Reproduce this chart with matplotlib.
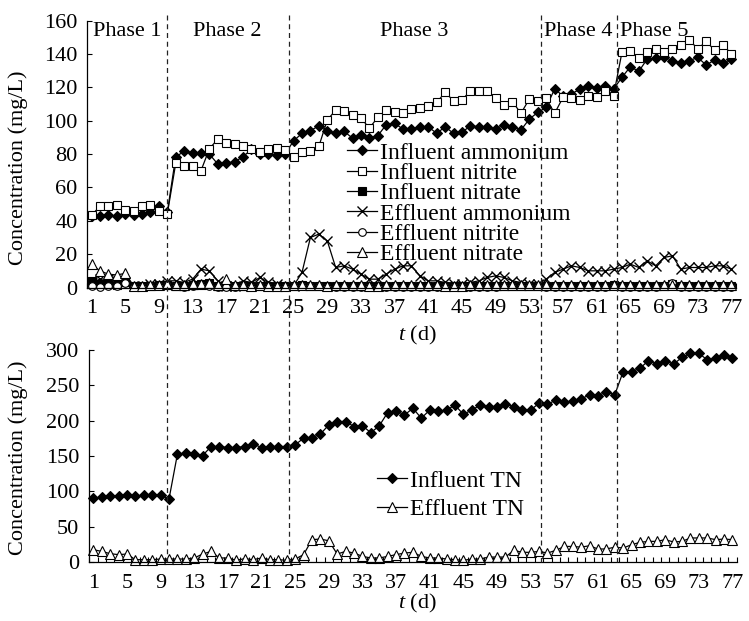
import matplotlib
matplotlib.use("Agg")
import matplotlib.pyplot as plt
import matplotlib.transforms as mtransforms
from matplotlib.lines import Line2D
import numpy as np

plt.rcParams["font.family"] = ["Liberation Serif", "DejaVu Serif"]
plt.rcParams["mathtext.fontset"] = "custom"
plt.rcParams["mathtext.rm"] = "Liberation Serif"
plt.rcParams["mathtext.it"] = "Liberation Serif:italic"

W, H = 749, 621
BLACK = "#000000"

DAYS = list(range(1, 78))
TICK_DAYS = list(range(1, 78, 4))

# top panel (mg/L)
INF_NH4 = [43, 42.6, 43.6, 42.6, 44, 43.6, 44, 45, 48.6, 45,
           78.4, 81.6, 80.6, 80.6, 80, 74, 74.6, 75.4, 78.4, 83,
           80, 80, 79.6, 80, 88, 92.4, 94, 97, 93.6, 92.4,
           93.6, 89.6, 91.6, 89.6, 91, 97.6, 98.4, 95, 95, 96.4,
           96.4, 92.4, 96.4, 92.4, 93, 97, 96.4, 96.4, 95, 97.6,
           96.4, 94.4, 101, 105, 108, 119, 115, 116, 119, 121,
           119.6, 121, 119, 126, 132.4, 129.6, 137, 137.6, 138.4, 136,
           134.4, 136, 138, 133.4, 136.4, 134.4, 137]
INF_NO2 = [43.4, 48.6, 48.6, 49.4, 46.6, 46, 48.6, 49.4, 46, 44,
           74.4, 72.6, 72.6, 70, 83.2, 89, 86.4, 86, 85, 83.2,
           81, 83, 83.6, 82.4, 78, 81, 82, 84.6, 100.4, 106.4,
           105.6, 103.6, 101.6, 95.6, 102, 106.4, 105, 104.4, 107, 107.6,
           109, 111, 117, 112, 112.4, 118, 117.6, 118, 113.4, 109.5,
           111.5, 104.4, 113, 112, 113.6, 104.4, 114, 113.6, 112.4, 115,
           114, 117.6, 115, 141, 142, 137.6, 141, 143, 141, 143,
           145.6, 148.6, 143, 147.6, 142.4, 145.6, 140]
INF_NO3 = [4, 2, 2.5, 1.5, 3, 1, 1, 1, 1.5, 1.5,
           1, 1, 1.5, 2, 2.5, 1, 1, 1, 1, 1,
           1, 1, 1, 1, 1, 1.5, 1, 1, 1, 1,
           1, 1, 1, 1, 1, 1, 1, 1, 1, 1,
           1, 1, 1, 1, 1, 1, 1, 1, 1, 1,
           1, 1, 1, 1, 1, 1, 1, 1, 1, 1,
           1, 1, 1.5, 1, 1, 1, 1, 1, 1, 2,
           1, 1, 1, 1, 1, 1, 1]
EFF_NH4 = [3, 5, 5, 4, 3, 1, 1, 2, 2, 4,
           4, 3, 5, 11, 10, 4, 1, 1, 4, 3,
           6, 3, 2, 1, 1, 9, 30, 32, 28, 12,
           13, 11, 8, 5, 5, 8, 11, 13, 13, 7,
           4, 4, 3, 2, 2, 3, 4, 6, 7, 6,
           4, 3, 2, 2, 5, 9, 11, 13, 12, 10,
           10, 10, 11, 12, 14, 12, 16, 13, 18, 19,
           11, 12, 12, 12, 13, 13, 11]
EFF_NO2 = [1, 0.5, 1, 1, 2.5, 0.5, 0.5, 1, 1, 1.5,
           1, 0.5, 1, 1.5, 1, 0.5, 0.5, 0.5, 1, 0.5,
           1, 0.5, 0.5, 0.5, 1, 1, 1, 1, 0.5, 0.5,
           0.5, 0.5, 0.5, 0.5, 0.5, 0.5, 0.5, 0.5, 0.5, 0.5,
           0.5, 0.5, 0.5, 0.5, 0.5, 0.5, 0.5, 0.5, 0.5, 1,
           1, 1, 1, 1, 0.5, 0.5, 0.5, 0.5, 0.5, 0.5,
           0.5, 0.5, 1, 0.5, 0.5, 0.5, 0.5, 0.5, 1, 2.5,
           0.5, 0.5, 0.5, 0.5, 0.5, 0.5, 0.5]
EFF_NO3 = [14, 10, 8, 7.5, 8.5, 1, 1, 1.5, 1.5, 2,
           1.5, 1.5, 2, 2, 2.5, 1.5, 5, 1.5, 1.5, 1,
           1.5, 1, 1, 1, 1.5, 1.5, 1.5, 1.5, 1, 1.5,
           1.5, 1.5, 1.5, 1, 1, 1.5, 1.5, 1.5, 1.5, 1.5,
           1.5, 1.5, 1, 1, 1, 1.5, 1.5, 1.5, 1.5, 1.5,
           1.5, 1.5, 1.5, 1.5, 1.5, 1.5, 1.5, 1.5, 1.5, 1.5,
           1.5, 1.5, 1.5, 1.5, 1.5, 1.5, 1.5, 1.5, 1.5, 1.5,
           1.5, 1.5, 1.5, 1.5, 1.5, 1.5, 1.5]

# bottom panel (mg/L)
INF_TN = [90.4, 91.4, 93.7, 93.7, 95, 92.8, 94.2, 95, 95, 89,
          152.6, 154, 152.6, 150.7, 163.4, 163.4, 162, 162, 163.4, 167.2,
          162, 163.4, 163.4, 163.4, 165.8, 175.2, 176, 181, 194, 198.8,
          198.8, 191.7, 192.7, 183, 192.7, 211.5, 214.3, 208, 217.6, 203.5,
          215, 213, 215, 222, 209, 215, 222, 220, 220, 223.7,
          220, 215, 215, 224.7, 223, 229.4, 226, 228, 230.8, 236.5,
          235, 241, 236.5, 269.4, 269.4, 274, 285, 280, 285, 280,
          289.7, 295.3, 295.3, 286, 288, 293, 289]
EFF_TN = [17.4, 15, 11.8, 10.4, 11.3, 3.3, 3.3, 3.3, 4.2, 4.2,
          4.2, 4.2, 5.7, 11.3, 15, 5.7, 5.7, 2.4, 4.7, 3.3,
          5.7, 3.3, 3.3, 2.4, 4.2, 10.4, 31.6, 32.5, 30, 11.3,
          15, 12.7, 8, 5.7, 5.7, 8, 10.4, 12.7, 13.7, 8,
          5.7, 5.7, 4.2, 3.3, 2.4, 4.2, 4.2, 7, 7, 7,
          16.5, 13.7, 13.7, 15, 12.7, 16.5, 22, 22, 21, 23,
          18.4, 18.4, 21, 19.8, 24.5, 27.8, 29.2, 29.2, 31.6, 28.3,
          29.2, 34, 34, 34, 31.6, 32.5, 31.6]

PHASES = ["Phase 1", "Phase 2", "Phase 3", "Phase 4", "Phase 5"]
PHASE_BOUNDS = [9.9, 24.3, 54.3, 63.3]

TOP_SERIES = [
    ("Influent ammonium", INF_NH4, dict(marker="D", mfc=BLACK, ms=5)),
    ("Influent nitrite", INF_NO2, dict(marker="s", mfc="white", ms=6)),
    ("Influent nitrate", INF_NO3, dict(marker="s", mfc=BLACK, ms=5.5)),
    ("Effluent ammonium", EFF_NH4, dict(marker="x", mfc=BLACK, ms=6.5, mew=1)),
    ("Effluent nitrite", EFF_NO2, dict(marker="o", mfc="white", ms=5.5)),
    ("Effluent nitrate", EFF_NO3, dict(marker="^", mfc="white", ms=6.5)),
]
BOT_SERIES = [
    ("Influent TN", INF_TN, dict(marker="D", mfc=BLACK, ms=5)),
    ("Effluent TN", EFF_TN, dict(marker="^", mfc="white", ms=7)),
]


def px_axes(fig, left, top, right, bottom):
    return fig.add_axes([left / W, 1 - bottom / H, (right - left) / W, (bottom - top) / H])


def style_axes(ax, ymax, ystep):
    ax.set_xlim(0.5, 77.5)
    ax.set_ylim(0, ymax)
    ax.set_yticks(np.arange(0, ymax + 1, ystep))
    ax.set_xticks(TICK_DAYS)
    ax.set_xticklabels([str(d) for d in TICK_DAYS])
    ax.set_xticks(np.arange(0.5, 78, 1), minor=True)
    ax.tick_params(axis="x", which="major", length=0, pad=8.5, labelsize=16, colors=BLACK)
    ax.tick_params(axis="x", which="minor", direction="in", length=3.5, width=0.8)
    ax.tick_params(axis="y", direction="in", length=3.5, width=0.8, pad=7,
                   labelsize=16, colors=BLACK)
    for s in ("top", "right"):
        ax.spines[s].set_visible(False)
    for s in ("left", "bottom"):
        ax.spines[s].set_linewidth(0.9)
        ax.spines[s].set_color(BLACK)
    ax.patch.set_alpha(0)


def draw(ax, series):
    for label, vals, mk in series:
        mk = dict(mk)
        ax.plot(DAYS, vals, color=BLACK, lw=0.9, mec=BLACK, mew=mk.pop("mew", 0.8),
                label=label, clip_on=False, **mk)


fig = plt.figure(figsize=(W / 100, H / 100), dpi=100)
ax1 = px_axes(fig, 87.3, 20.7, 735.6, 287.5)
ax2 = px_axes(fig, 89.1, 350, 736.7, 562)
style_axes(ax1, 160, 20)
style_axes(ax2, 300, 50)
draw(ax1, TOP_SERIES)
draw(ax2, BOT_SERIES)

# phase boundaries run through both panels
tr = mtransforms.blended_transform_factory(ax1.transData, fig.transFigure)
for xb in PHASE_BOUNDS:
    fig.add_artist(Line2D([xb + 0.1, xb + 0.1], [1 - 15 / H, 1 - 562 / H], transform=tr,
                          color="#222222", lw=0.9, ls=(0, (4, 3))))

edges = [0.5] + PHASE_BOUNDS + [77.5]
for i, name in enumerate(PHASES):
    tx = (edges[i] + edges[i + 1]) / 2 if i < 4 else edges[i] + 0.45
    ax1.annotate(name, xy=(tx, 1), xycoords=("data", "axes fraction"),
                 xytext=(0, -15.3 * 72 / 100), textcoords="offset points",
                 ha="center" if i < 4 else "left", va="baseline", fontsize=16)

for ycen in (167.5, 458):
    fig.text(18 / W, 1 - ycen / H, "Concentration (mg/L)", rotation=90,
             ha="center", va="center", fontsize=16)
fig.text(417 / W, 1 - 335 / H, "$t$ (d)", ha="center", va="center", fontsize=16)
fig.text(417 / W, 1 - 603 / H, "$t$ (d)", ha="center", va="center", fontsize=16)

ax1.legend(loc="upper left", bbox_to_anchor=(347 / W, 1 - 142 / H),
           bbox_transform=fig.transFigure, frameon=False, fontsize=17, numpoints=1,
           handlelength=1.27, handletextpad=0.13, borderpad=0, borderaxespad=0,
           labelspacing=-0.05)
ax2.legend(loc="upper left", bbox_to_anchor=(377 / W, 1 - 470 / H),
           bbox_transform=fig.transFigure, frameon=False, fontsize=17, numpoints=1,
           handlelength=1.27, handletextpad=0.13, borderpad=0, borderaxespad=0,
           labelspacing=0.3)

fig.savefig("out.png", dpi=100)
